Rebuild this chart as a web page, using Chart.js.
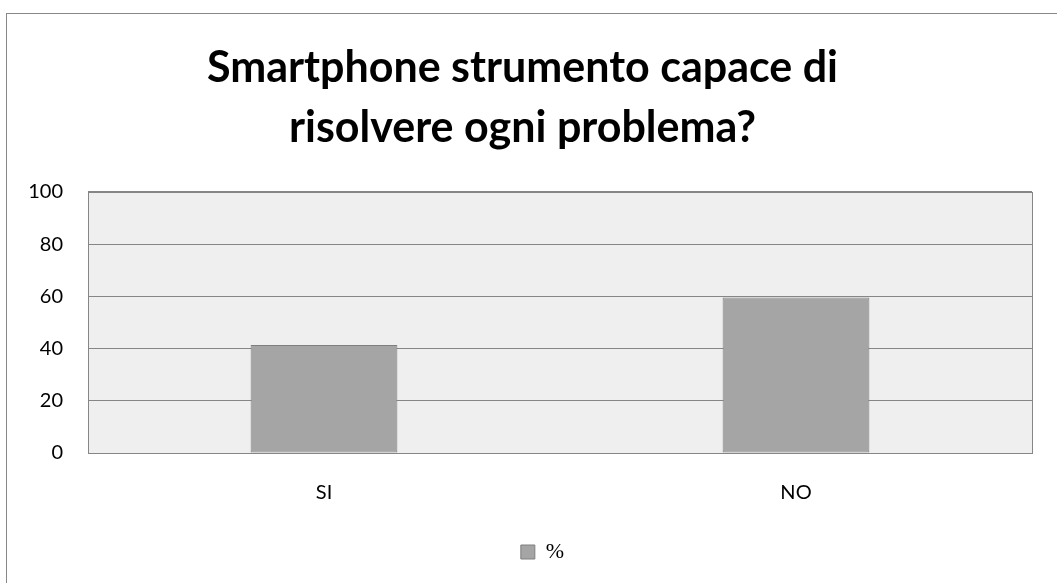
<!DOCTYPE html>
<html>
<head>
<meta charset="utf-8">
<script src="https://cdn.jsdelivr.net/npm/chart.js@4/dist/chart.umd.min.js"></script>
<style>
  html, body { margin: 0; padding: 0; background: #fff; }
  #wrap { position: relative; width: 1057px; height: 583px; overflow: hidden; }
  #frame { position: absolute; left: 6px; top: 13px; width: 1100px; height: 600px; border: 1px solid #888; box-sizing: border-box; }
  #chart { position: absolute; left: 0; top: 0; }
</style>
</head>
<body>
<div id="wrap">
  <div id="frame"></div>
  <canvas id="chart" width="1057" height="583"></canvas>
</div>
<script>
const ctx = document.getElementById('chart');

const categories = ['SI', 'NO'];
const percent = [41.4, 59.6];
const titleLines = ['Smartphone strumento capace di', 'risolvere ogni problema?'];

const fontFamily = 'Lato, "Open Sans", sans-serif';

// grey plot background with a border round it
const plotArea = {
  id: 'plotArea',
  beforeDraw(chart) {
    const a = chart.chartArea;
    const c = chart.ctx;
    c.save();
    c.fillStyle = '#efefef';
    c.fillRect(a.left, a.top, a.right - a.left, a.bottom - a.top);
    c.restore();
  },
  afterDraw(chart) {
    const a = chart.chartArea;
    const c = chart.ctx;
    c.save();
    c.strokeStyle = '#868686';
    c.lineWidth = 1;
    c.strokeRect(Math.round(a.left) + 0.5, Math.round(a.top) + 0.5,
      Math.round(a.right - a.left), Math.round(a.bottom - a.top));
    c.restore();
  }
};

// nudge the legend a little to the right of centre
const legendShift = {
  id: 'legendShift',
  afterLayout(chart) {
    chart.legend.left += 20;
    chart.legend.right += 20;
  }
};

const data = {
  labels: categories,
  datasets: [{
    label: '%',
    data: percent,
    backgroundColor: '#a5a5a5',
    borderColor: '#7f7f7f',
    borderWidth: 1,
    borderSkipped: false,
    categoryPercentage: 1,
    barPercentage: 0.311
  }]
};

const config = {
  type: 'bar',
  data: data,
  plugins: [plotArea, legendShift],
  options: {
    responsive: false,
    animation: false,
    layout: { padding: { left: 13, right: 25, top: 0, bottom: 10 } },
    plugins: {
      title: {
        display: true,
        text: titleLines,
        color: '#000',
        font: { family: fontFamily, size: 43, weight: 'bold', lineHeight: 1.395 },
        padding: { top: 38, bottom: 34 }
      },
      legend: {
        position: 'bottom',
        labels: {
          color: '#000',
          font: { family: '"Liberation Serif", serif', size: 22 },
          boxWidth: 14,
          boxHeight: 14,
          padding: 8
        }
      },
      tooltip: { enabled: false }
    },
    scales: {
      x: {
        grid: { display: false, drawTicks: false },
        border: { display: false },
        ticks: {
          color: '#000',
          font: { family: fontFamily, size: 20 },
          padding: 28
        }
      },
      y: {
        min: 0,
        max: 100,
        afterFit(scale) { scale.width = 75; },
        grid: { color: '#868686', lineWidth: 1, drawTicks: false },
        border: { display: false },
        ticks: {
          stepSize: 20,
          color: '#000',
          font: { family: fontFamily, size: 20 },
          padding: 25
        }
      }
    }
  }
};

const myChart = new Chart(ctx, config);
</script>
</body>
</html>
